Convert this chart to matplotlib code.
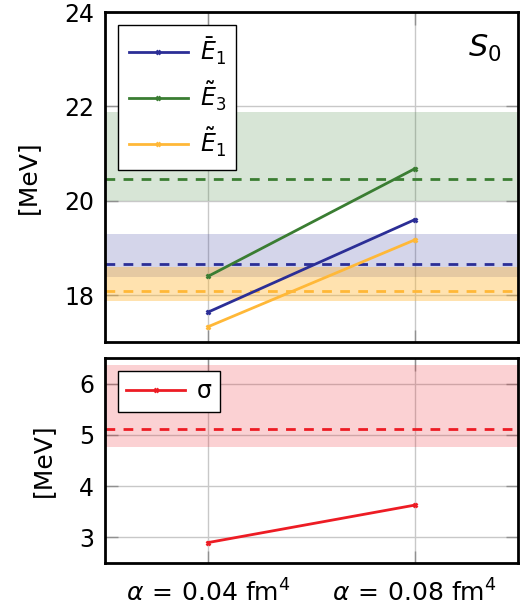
import matplotlib
matplotlib.use('Agg')
import matplotlib.pyplot as plt

plt.rcParams['font.family'] = ['DejaVu Sans']
plt.rcParams['mathtext.fontset'] = 'custom'
plt.rcParams['mathtext.rm'] = 'DejaVu Sans'
plt.rcParams['mathtext.it'] = 'DejaVu Sans:italic'
plt.rcParams['mathtext.bf'] = 'DejaVu Sans:bold'

# couplings on the x axis
alpha_values = ['0.04', '0.08']

# extracted energies per coupling [MeV]
e1_bar = [17.64, 19.60]
e3_tilde = [18.40, 20.68]
e1_tilde = [17.33, 19.17]
sigma = [2.90, 3.63]

# reference values with their uncertainty bands [MeV]
e1_bar_ref = 18.66
e1_bar_band = [18.39, 19.29]
e3_tilde_ref = 20.47
e3_tilde_band = [20.00, 21.89]
e1_tilde_ref = 18.09
e1_tilde_band = [17.88, 18.60]
sigma_ref = 5.12
sigma_band = [4.76, 6.37]

colors = {
    'blue': '#2b2e96',
    'green': '#3a7d32',
    'orange': '#ffb838',
    'red': '#ed1c24',
}

x = list(range(len(alpha_values)))
xlabels = [r'$\alpha\,=\,%s\ \mathrm{fm}^4$' % a for a in alpha_values]

fig = plt.figure(figsize=(5.28, 6.10), dpi=100)
ax_top = fig.add_axes([0.199, 0.439, 0.782, 0.541])
ax_bot = fig.add_axes([0.199, 0.077, 0.782, 0.336])


def style_axes(ax):
    for s in ax.spines.values():
        s.set_linewidth(2.0)
        s.set_color('black')
    ax.grid(True, color='#c8c8c8', linewidth=1.0)
    ax.set_axisbelow(True)
    ax.tick_params(axis='both', direction='in', length=9, width=1.0,
                   color='#909090', labelsize=17, left=True, right=True,
                   top=True, bottom=True, pad=8)
    ax.set_xlim(-0.5, 1.5)
    ax.set_xticks(x)
    ax.set_ylabel('[MeV]', fontsize=18, labelpad=17)


line_kw = dict(marker='x', markersize=3.5, markeredgewidth=1.8, linewidth=2.0)
dash_kw = dict(linestyle=(0, (3.5, 3)), linewidth=2.0)

# upper panel: energies
series = [
    (e1_bar, e1_bar_ref, e1_bar_band, colors['blue'], 0.2, r'$\bar{E}_1$'),
    (e3_tilde, e3_tilde_ref, e3_tilde_band, colors['green'], 0.2, r'$\tilde{E}_3$'),
    (e1_tilde, e1_tilde_ref, e1_tilde_band, colors['orange'], 0.4, r'$\tilde{E}_1$'),
]
for vals, ref, band, c, a, lab in series:
    ax_top.axhspan(band[0], band[1], color=c, alpha=a, linewidth=0, zorder=1)
for vals, ref, band, c, a, lab in series:
    ax_top.axhline(ref, color=c, zorder=2, **dash_kw)
    ax_top.plot(x, vals, color=c, label=lab, zorder=3, **line_kw)

style_axes(ax_top)
ax_top.set_ylim(17, 24)
ax_top.set_yticks([18, 20, 22, 24])
ax_top.set_xticklabels([])
ax_top.text(0.92, 0.89, r'$S_0$', transform=ax_top.transAxes, fontsize=22,
            ha='center', va='center')
leg = ax_top.legend(loc='upper left', fontsize=17, frameon=True, fancybox=False,
                    edgecolor='black', framealpha=1, handlelength=2.5,
                    handletextpad=0.5, labelspacing=0.55,
                    borderaxespad=0.55, borderpad=0.45)
leg.get_frame().set_linewidth(1.0)

# lower panel: width
ax_bot.axhspan(sigma_band[0], sigma_band[1], color=colors['red'], alpha=0.2,
               linewidth=0, zorder=1)
ax_bot.axhline(sigma_ref, color=colors['red'], zorder=2, **dash_kw)
ax_bot.plot(x, sigma, color=colors['red'], label='σ', zorder=3, **line_kw)

style_axes(ax_bot)
ax_bot.set_ylim(2.5, 6.5)
ax_bot.set_yticks([3, 4, 5, 6])
ax_bot.set_xticklabels(xlabels)
ax_bot.tick_params(axis='x', pad=12, labelsize=18)
leg2 = ax_bot.legend(loc='upper left', fontsize=17, frameon=True, fancybox=False,
                     edgecolor='black', framealpha=1, handlelength=2.5,
                     handletextpad=0.5, borderaxespad=0.55, borderpad=0.35)
leg2.get_frame().set_linewidth(1.0)

fig.align_ylabels([ax_top, ax_bot])
fig.savefig('out.png', dpi=100)
